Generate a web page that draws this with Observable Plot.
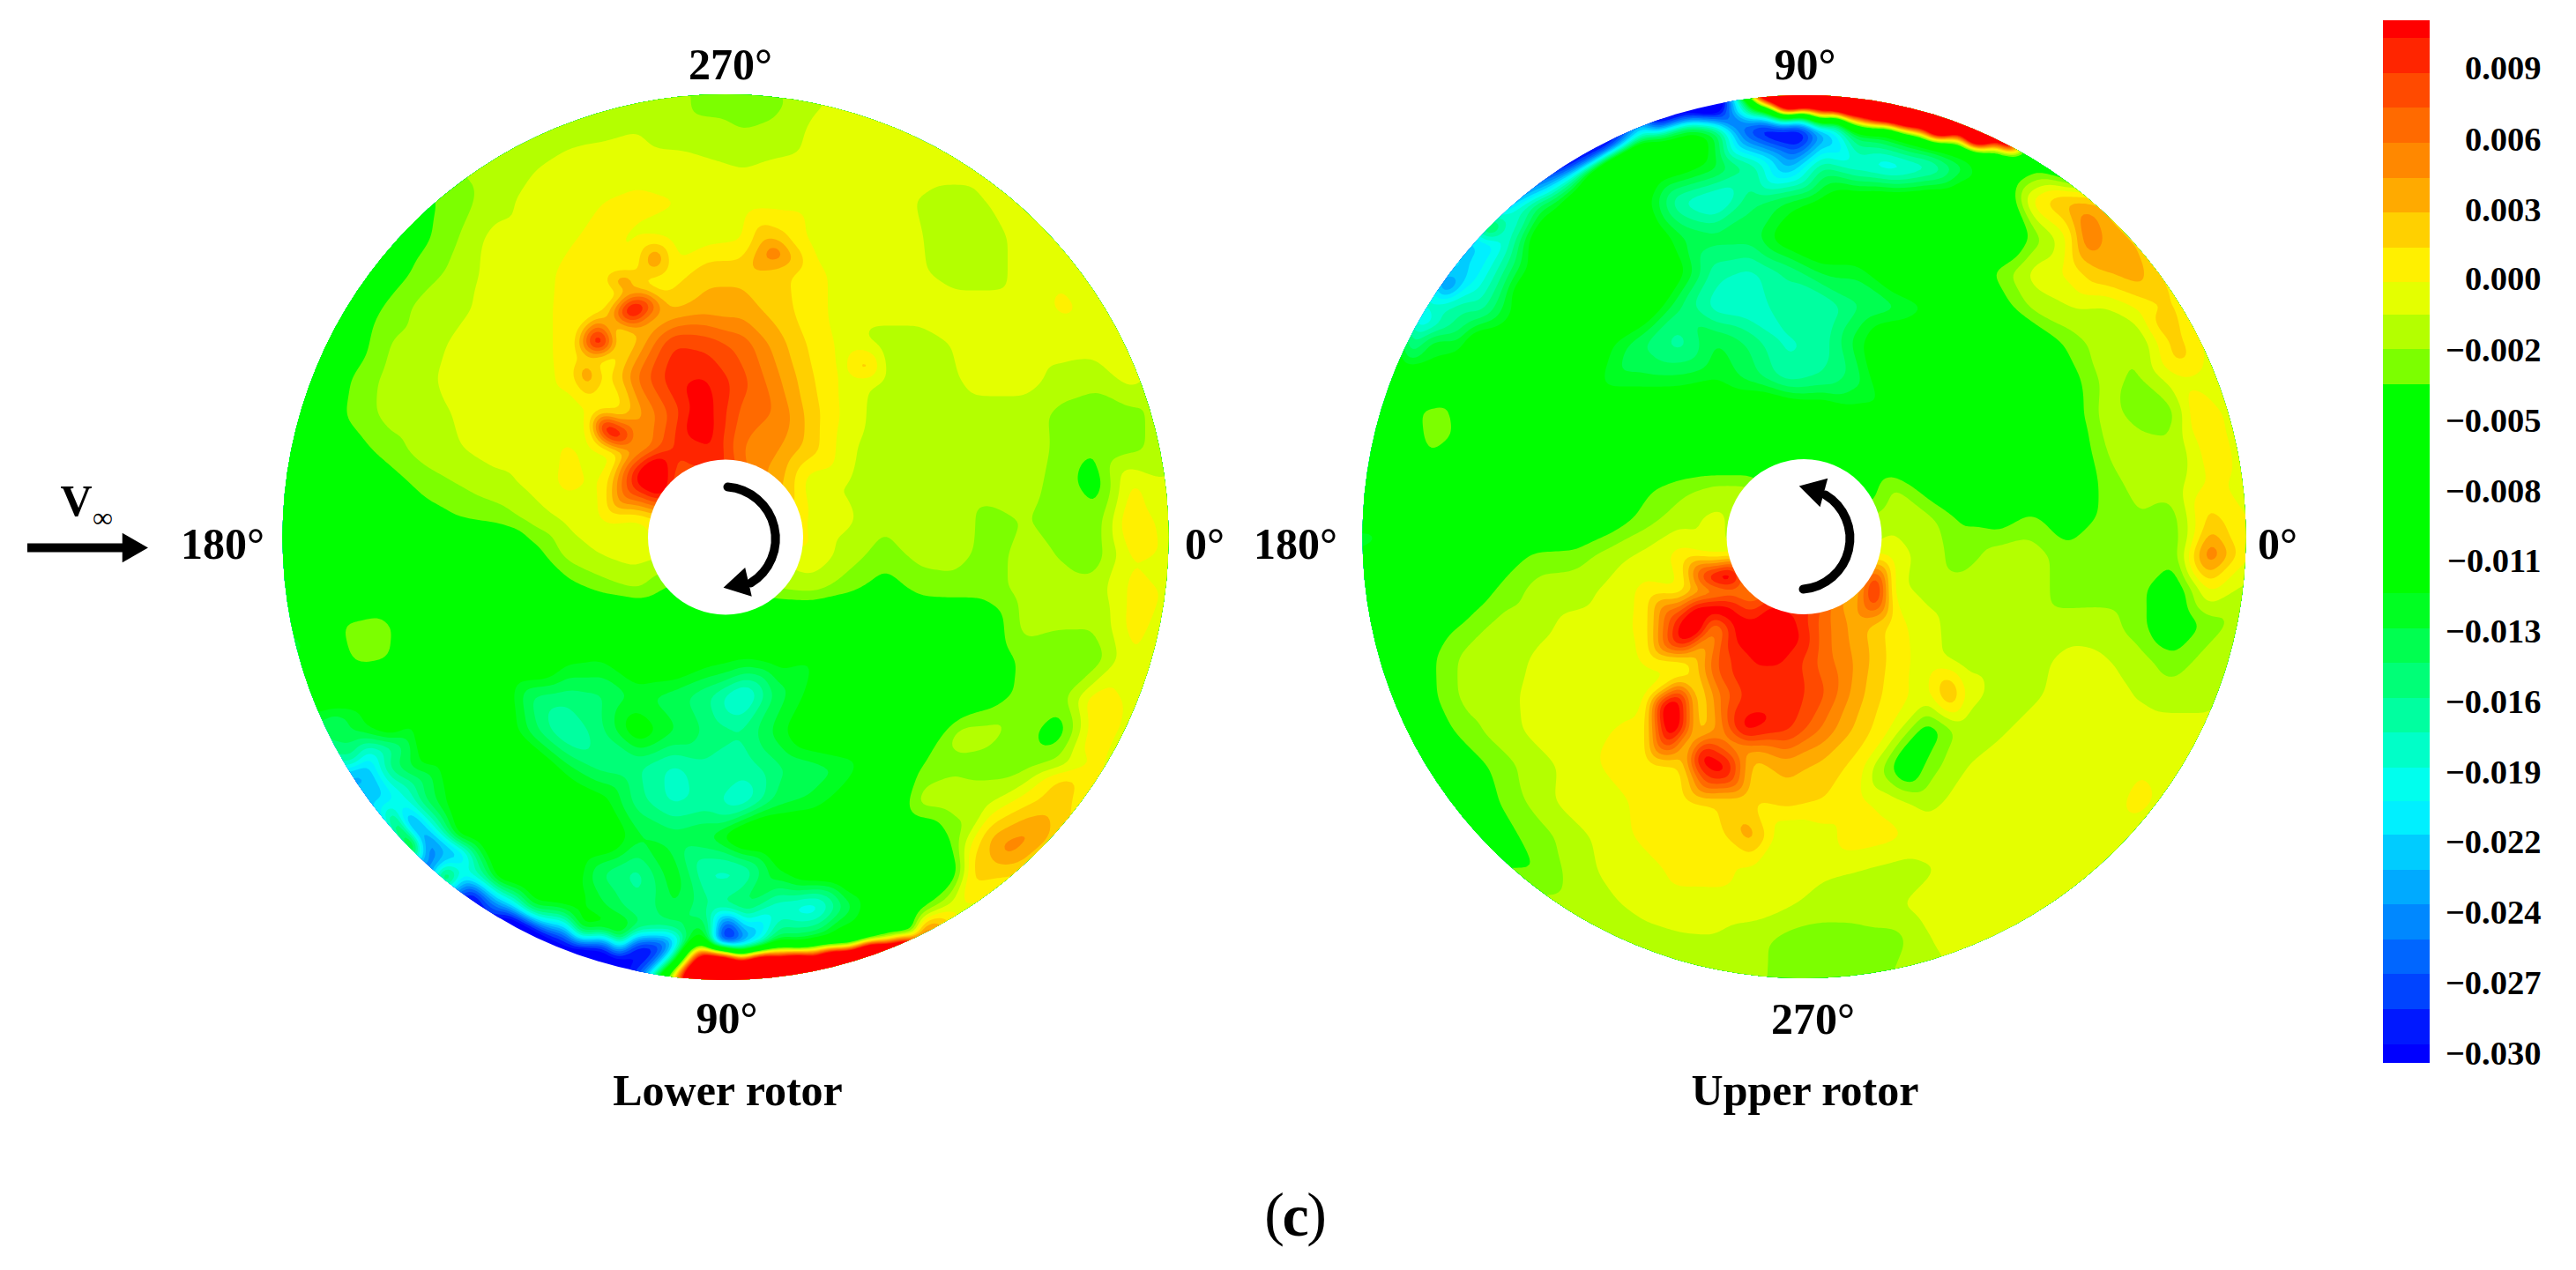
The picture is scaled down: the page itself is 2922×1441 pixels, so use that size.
<!DOCTYPE html>
<html>
<head>
<meta charset="utf-8">
<script src="https://cdn.jsdelivr.net/npm/d3@7"></script>
<script src="https://cdn.jsdelivr.net/npm/@observablehq/plot@0.6"></script>
<style>
html,body{margin:0;padding:0;background:#fff}
#chart{position:relative;width:2922px;height:1441px;overflow:hidden}
#chart svg{position:absolute;top:0;background:transparent}
</style>
</head>
<body>
<div id="chart"></div>
<script>
// Values are in thousandths. Rows run top to bottom, columns left to right.
const lowerRotor = [
[-1.4,-1.4,-1.4,-1.4,-1.4,-1.4,-1.4,-1.4,-1.4,-1.4,-1.4,-1.4,-2.8,-2.8,-2.5,-1,0,0,0,0,0,0,0,0,0,0],
[-1.5,-1.5,-1.5,-1.5,-1.5,-1.5,-1.5,-1.5,-1.4,-1,-.7,-1.4,-1.6,-2.1,-1.8,-.3,0,0,0,0,0,0,0,0,0,0],
[-2,-2,-2,-2,-2,-2,-1.6,-.9,0,0,0,0,-.4,-.7,-.3,0,0,0,0,0,0,0,0,0,0,0],
[-4,-4,-4,-4,-4,-2.5,-1.4,0,0,.6,1,.7,0,0,0,0,0,0,-.8,-1.4,-.6,0,0,0,0,0],
[-5,-5,-5,-5,-3.8,-2,0,0,.4,1,.3,0,0,.3,2.5,0,0,0,-.6,-1.4,-1.4,0,0,0,0,0],
[-6,-6,-6,-4.5,-2.8,-1.5,0,0,.9,1,1.5,1,3,3,2.5,1,0,0,-.5,-1.4,-1.4,0,.5,0,0,0],
[-7,-7,-5,-3,-1.4,-1,-.1,0,1,1,14,3,4,4,2.7,1,0,0,0,0,0,0,.8,.4,0,0],
[-7,-6,-4.5,-2,-1.3,-.3,0,0,1,14,3.5,9,8.5,7,4,1.5,0,-1.4,-1.4,-.6,0,0,0,0,0,0],
[-7,-5,-3.3,-1.5,-1,0,0,0,.9,1.5,6.5,10,10.5,8,5,2,0,-.9,-1.4,-.8,0,0,-1.2,-1.6,0,-1.4],
[-7,-4.8,-3,-1.5,-1.3,-.5,0,0,0,1.3,4,8,11,7,6,2.5,0,-1.4,-1.4,-1.4,-1.4,-1.4,-2.5,-3,-2.5,-1.5],
[-7,-5.5,-4.2,-2.6,-1.4,-.7,0,0,.8,.2,4,9,10,6,5,2.5,-.5,-1.5,-1.4,-1.4,-1.4,-1.4,-2.4,-3.5,-2.5,-1.5],
[-7,-7,-5.5,-4.5,-2.8,-2,-1.2,-.3,1,.4,11,8,8,7,4,-.7,-.8,-1.4,-1.4,-1.4,-1.4,-1.6,-2.6,-4.6,1,-.5],
[-9,-8,-7,-6,-4.5,-3.5,-3,-1.6,-.4,.5,0,2,2,2,2,.2,-.4,-1.8,-1.4,-1.4,-2.6,-2,-2.8,-3,2,-.5],
[-10,-8,-8,-8,-8,-8,-8,-4.5,-1.6,-.6,0,-.5,-.5,-.5,-.5,.5,-1.4,-2.8,-1.6,-1.4,-2.8,-1.4,-2.2,-3,.6,0],
[-10,-8,-8,-8,-8,-8,-8,-8,-4.5,-3,-2,-4,-4,-4,-2,-1.6,-3,-4.5,-3,-2.8,-2.8,-1.4,-1.4,-1.4,1,.5],
[-12,-8,-2.8,-3,-8,-8,-8,-8,-8,-8,-8,-8,-8,-8,-8,-8,-8,-8,-6,-6,-4.8,-1.5,-2,-2,1.2,0],
[-12,-8,-2.8,-3.6,-8,-8,-8,-8,-11.5,-12,-9,-9,-11,-12,-11,-12,-8,-8,-8,-8,-5,-3,-2.8,-3,.6,0],
[-12,-9,-9,-8,-8,-8,-9,-15,-15.5,-15,-13,-14,-16,-20,-14,-11,-8,-8,-8,-8,-4.8,-2.8,-2.8,1,-.1,0],
[-14,-14,-13,-10,-8,-8,-9,-14,-18,-15,-10,-13,-15,-16,-12.5,-9,-8,-8,-8,-1.6,-1.5,-3,-4.6,2,-.3,0],
[-18,-18,-17,-15,-11,-8.5,-8,-8.5,-13,-15.5,-16,-18,-16.5,-17,-15,-14,-13,-8.5,-3.4,-2.4,-2.8,-2.7,-1.2,.8,0,0],
[-22,-22,-22,-20,-14,-10,-8,-8,-9,-11,-15.5,-18,-17,-19,-14,-13,-10,-8,-1.4,-1.2,-1,1.5,2.7,.5,0,0],
[-30,-30,-30,-25,-25,-10.5,-8,-8,-8,-8.5,-13,-14,-13,-8,-8,-8,-8,-8,-6,-3,3.5,5.5,2.5,0,0,0],
[-30,-30,-30,-30,-28,-19,-9,-8,-9,-15,-17,-12,-18,-18,-12,-9,-8,-8,-8,-5,2.5,2,1,0,0,0],
[-35,-35,-35,-35,-35,-32,-26,-13,-12,-13,-16,-13,-16,-14,-19,-21,-14,-8.5,-4.5,.5,0,0,0,0,0,0],
[-35,-35,-35,-35,-35,-35,-35,-33,-30,-26,-28,-26,-20,-26,-13,-12,-10,-2,10,0,0,0,0,0,0,0],
[-35,-35,-35,-35,-35,-35,-35,-35,-35,-35,-28,0,40,40,40,40,40,40,40,30,0,0,0,0,0,0]
];
const upperRotor = [
[-30,-30,-30,-30,-30,-30,-30,-30,-30,-30,-40,-12,30,40,40,40,40,40,40,-8,-8,-8,-8,-8,-8,-8],
[-30,-30,-30,-30,-30,-30,-30,-30,-20,-11,-13,-29,-33,-25,-13,-10,10,15,20,-8,-8,-8,-8,-8,-8,-8],
[-30,-30,-30,-30,-30,-30,-30,-3.4,-8,-10,-12.5,-16,-24,-16,-19,-21,-19,-14,-8,-4.5,-8,-8,-8,-8,-8,-8],
[-26,-26,-26,-26,-26,-15,-8,-8,-11,-18,-20,-15,-13,-11,-9,-8.5,-8,-8,-8,1.5,4,3,-8,-8,-8,-8],
[-22,-22,-22,-22,-20,-9,-8,-8,-8.5,-13,-14,-14,-10,-8,-8,-8,-8,-8,-8,-3,.5,4.5,3,3,3,3],
[-20,-20,-20,-22,-16,-10,-8,-8,-8,-11,-17,-18,-16,-13,-13,-9,-8,-6,-3,0,1,3.5,4,1,1,1],
[-18,-18,-18,-16,-13,-9,-8,-8,-9,-15,-18.5,-19,-16,-18,-15,-14,-12,-8,-4.8,-1.6,-.8,-1,.7,2,0,0],
[-10,-10,-12,-9,-8,-8,-8.5,-11.5,-15,-17,-13,-15,-18,-17,-12.5,-8.5,-8,-8,-8,-6,-3,-1.4,-2,2.7,0,0],
[-9,-9,-8,-8,-8,-8,-8,-13,-13,-13,-12,-14,-17,-16,-14,-8.5,-8,-8,-8,-8,-4.5,-1.6,-2.4,.3,0,0],
[-12,-8,-2.8,-8,-8,-8,-8,-8.5,-8.5,-8,-8,-8,-8,-9,-11,-11,-8,-8,-8,-8,-5,-1.4,-2.8,-2.6,1,0],
[-10,-8,-2.8,-8,-8,-8,-8,-8,-8,-8,-8,-8,-8,-8,-8,-8,-8,-8,-8,-8,-6,-2,-1.4,-1.8,1.5,0],
[-10,-8,-8,-8,-8,-8,-8,-8,-4,-2.8,-2,-2,-6,-6,-6,-2,-5,-6.5,-6.5,-6.5,-6,-3,-1.4,-1.4,.9,.2],
[-8,-8,-8,-8,-8,-8,-8,-5,-2.8,-1.2,-.2,-2,-2,-2,-2,-1,-1.5,-3.8,-4.6,-3,-5,-3,-2.2,-2.8,2.7,.6],
[-10,-8,-8,-8,-4.6,-3,-2.8,-1.4,-.3,1.2,-.3,0,0,0,0,0,-1.2,-3,-1.4,-1.4,-2.9,-3,-3,-3,7,1],
[-9,-8,-8,-5,-3,-1.4,-1.3,-.3,1,.3,2,5,8,8,3,-.3,-1.2,-1.4,-1.4,-1.4,-2.9,-2.8,-3,-5.5,1,-1.2],
[-9,-8,-4.7,-3,-1.4,-1,-.3,0,1,11,5,11,11.5,7,4,1.3,-.3,-1.4,-1.4,-1.4,-1.4,-1.4,-2.9,-6,-2.8,-1.4],
[-9,-8,-3.5,-1.4,-1.3,-.4,0,0,.7,1,7.5,10.5,10.5,7,4.5,1.5,-.2,-1.4,-1.4,-1.2,-.2,-.5,-1.4,-3,-1.4,-1.4],
[-8,-8,-3.6,-1.4,-1.2,0,0,0,-.2,11,5.5,9.8,10,8,4,1.2,0,.5,-1.4,-1,0,0,-.8,-1.4,-1.4,0],
[-8,-8,-4.7,-2.5,-1.3,-.1,0,.6,1,11,4.5,11,9.5,6,3,.5,-5,-1.5,-1,0,0,0,0,0,0,0],
[-8,-8,-8,-4.6,-2.6,-1.3,-.1,.9,1,1.5,11,2.7,4,3,1.5,-3.5,-3,-.8,0,0,0,0,.5,0,0,0],
[-8,-8,-8,-4.6,-3.3,-1.2,0,.1,1,1.3,2,2,2.7,2,1,0,-1.2,-.2,0,0,0,0,1,0,0,0],
[-4,-4,-4,-4,-4,-2.8,-1.2,-.1,1,1.3,1.2,4.5,-1,0,1.5,1,0,0,0,0,-.6,0,0,0,0,0],
[-3.5,-3.5,-3.5,-3.5,-3.5,-3.5,-1.4,-.3,0,1,1.1,.2,0,-.4,-.8,-1.3,-.9,0,0,0,0,0,0,0,0,0],
[-1.4,-1.4,-1.4,-1.4,-1.4,-1.4,-1.4,-1,-.2,.1,0,-.1,-.5,-1.4,-1.4,-.9,0,0,0,0,0,0,0,0,0,0],
[-1.4,-1.4,-1.4,-1.4,-1.4,-1.4,-1.4,-1.4,-1.4,-1,-.9,-1.5,-2.8,-3,-2.9,-2.9,-.8,0,0,0,0,0,0,0,0,0],
[-1.4,-1.4,-1.4,-1.4,-1.4,-1.4,-1.4,-1.4,-1.4,-1.4,-1.4,-1.4,-3,-3.4,-3.4,-2,-1.4,0,0,0,0,0,0,0,0,0]
];
// Extra readings of small features: [x, y, value] in picture pixels.
const lowerSpots = [
[743,292,6],[707,320,8],[700,338,1.3],[715,352,14],[702,356,9],[730,345,11],[720,375,3],[705,330,1],
[678,388,14],[665,422,6],[693,488,14],[683,478,12],[703,498,12],
[655,370,.7],[650,400,.7],[645,430,.7],[665,345,.7],[680,320,.7],[697,375,1],[680,408,.7],[690,430,1.5],[728,372,3],[702,392,1.2],
[700,440,1.5],[700,470,1.3],[698,512,.2],[690,530,0],[670,500,0],[668,470,.3],[685,335,.7],[730,322,1],
[718,535,10],[745,528,14],[733,547,13],[750,552,14],
[795,460,11.5],[800,490,11.5],[795,430,10.5],[805,510,11],[790,475,12],
[865,272,3.5],[882,283,7],[905,297,3],[980,420,4],
[390,710,-3],[410,750,-3],[430,700,-3],[440,735,-3],
[825,1050,-31],[825,1070,-33],[812,1070,-30],[842,1070,-28],[825,1078,-10],
[722,1075,-31],[690,1072,-31],[750,1072,-30],[722,1052,-14],[682,1050,-11],[762,1052,-15],
[1140,963,5.8],[1105,985,3],[1247,797,2.8],[1207,885,2.8],[1287,593,2.8],[1290,620,2.5],
[295,450,-9],[295,550,-12],[295,650,-14],[295,750,-14],[1350,500,-.5],[1350,620,0],[1350,720,0],
[822,85,-3],[1000,85,0],[600,85,-1.4],[822,1135,40],[700,1135,-35],[950,1135,40]
];
const upperSpots = [
[1950,660,14],[1960,652,14],[1940,688,13],[1920,700,14],[1910,725,13],[1925,715,14],
[1890,800,14],[1895,825,14],[1930,858,13],[1950,870,13],[1932,898,6],
[1933,727,3.5],[1915,750,1.2],[1907,763,.8],[1927,760,3.5],[1940,760,6.5],[1953,760,8.5],
[1925,790,1.5],[1935,790,3],[1925,830,2],[1913,843,1],[1985,855,3.5],
[2010,780,10],[2030,760,10],[2040,720,11],[2010,695,12],[1975,710,12],[1980,830,12],[1975,820,11],
[2128,667,12],[2158,870,-6],[2213,787,4.5],[2368,262,7],
[2423,317,4],[2453,363,3.5],[2470,400,3],[2487,467,1.5],[2507,593,3],
[1630,490,-2.5],[1615,470,-2.5],[1640,465,-2.5],[1620,500,-2.5],[1645,490,-2.5],[1625,485,-2.5],
[1835,182,-2.5],[1850,175,-2.5],[1825,188,-2.5],
[2017,150,-33],[2040,150,-33],[1990,143,-31],[1947,130,-31],[2017,180,-22],
[2007,133,-19],[2040,131,-16],[1987,122,-10],
[1520,500,-12],[1520,620,-14],[1520,720,-12],[2570,500,0],[2570,620,.5],[2570,720,-1],
[2046,85,40],[1900,85,-30],[2150,85,40],[2046,1135,-3.4],[1900,1135,-1.4],[2200,1135,0]
];
// Readings along the rim: [angle in degrees clockwise from +x, [radius, value], ...].
const lowerRim = [
[65,[498,-8]],[66,[505,20],[499,14],[495,-6]],[70,[505,40],[497,30],[492,14],[486,-8]],[75,[505,40],[496,30],[488,20],[482,-8]],
[80,[505,40],[494,30],[484,20],[477,-8]],[85,[505,40],[492,30],[480,22],[473,-8]],[90,[505,40],[490,30],[479,18],[472,6],[464,-10]],
[93,[505,40],[490,30],[474,14],[467,8],[458,-10]],[97,[500,4],[490,-12]],
[105,[498,-33],[490,-24],[478,-14],[465,-10]],[110,[498,-33],[490,-24],[478,-14],[465,-10]],
[115,[498,-33],[490,-25],[478,-19],[462,-13],[445,-9]],[120,[498,-33],[490,-25],[478,-19],[462,-13],[445,-9]],
[125,[498,-33],[490,-25],[478,-19],[462,-13],[445,-9]],[130,[498,-8],[485,-20],[470,-24],[455,-15],[435,-9]],
[135,[498,-6],[485,-28],[470,-20],[450,-14],[425,-9]],[138,[498,-6],[485,-28],[470,-20],[450,-14]],
[142,[498,-20],[485,-22],[460,-18],[430,-14],[400,-11]],[148,[498,-24],[480,-22],[450,-17],[420,-13],[390,-10]],
[155,[498,-15],[470,-13],[440,-10]],[165,[498,-13]],[175,[498,-12]],[185,[498,-12]]
];
const upperRim = [
[263,[498,-10],[490,-12]],[265,[505,30],[498,16],[490,-8]],[268,[505,40],[495,40],[486,22],[479,-8]],[275,[505,40],[495,40],[486,22],[479,-8]],
[282,[505,40],[495,40],[484,22],[477,-9]],[288,[505,40],[492,40],[479,22],[472,-9]],[293,[505,40],[495,35],[485,20],[478,-9]],
[297,[505,30],[497,16],[490,-8]],[300,[498,-8]],
[255,[498,-33],[488,-22],[476,-10]],[250,[498,-33],[489,-20],[478,-10]],[244,[498,-33],[489,-20],[478,-10]],
[238,[498,-32],[488,-19],[475,-10]],[233,[498,-25],[485,-18],[470,-12]],[228,[498,-18],[480,-18],[460,-11]],
[224,[498,-10],[485,-21],[470,-18],[445,-13]],[220,[498,-22],[480,-21],[450,-16],[425,-10]],
[215,[498,-28],[480,-20],[450,-17],[420,-12]],[210,[498,-22],[475,-17],[445,-13],[415,-10]],
[205,[498,-16],[470,-12]],[200,[498,-13]],[190,[498,-13]],[180,[498,-14]]
];
const levels = [-30,-28.6,-27.2,-25.8,-24.4,-23,-21.6,-20.25,-18.9,-17.5,-16.1,-14.7,-13.3,-11.9,-10.5,-9.1,-7.7,-6.3,-4.9,-3.5,-2.1,-.7,.6,2,3.4,4.8,6.2,7.6,9,10.4];
const bandColors = ["#0000ff","#0018ff","#0044ff","#0066ff","#0088ff","#00aaff","#00ccff","#00f0ff","#00ffee","#00ffc8","#00ffa0","#00ff77","#00ff50","#00ff22",
"#00ff00","#00ff00","#00ff00","#00ff00","#00ff00","#00ff00","#7cff00","#b4ff00","#e4ff00","#fff000","#ffd000","#ffaa00","#ff8800","#ff6a00","#ff4a00","#ff2500","#ff0000"];
const tickLabels = ["0.009","0.006","0.003","0.000","−0.002","−0.005","−0.008","−0.011","−0.013","−0.016","−0.019","−0.022","−0.024","−0.027","−0.030"];
const tickAt = [9.19,6.34,3.51,.75,-2.12,-4.95,-7.78,-10.58,-13.41,-16.25,-19.08,-21.87,-24.71,-27.54,-30.37];
const scaleTop = 11.12, scaleBottom = -30.76;

const angleLabels = [
  {t:"270°",x:828,y:73},{t:"90°",x:824,y:1155},{t:"180°",x:252,y:617},{t:"0°",x:1366,y:617},
  {t:"90°",x:2047,y:73},{t:"270°",x:2056,y:1156},{t:"180°",x:1469,y:617},{t:"0°",x:2583,y:617},
  {t:"Lower rotor",x:825,y:1237},{t:"Upper rotor",x:2047,y:1237},{t:"V",x:86,y:568}
];
const captionParts = [{t:"(",x:1445,w:"normal"},{t:"c",x:1469,w:"bold"},{t:")",x:1493,w:"normal"}];
const discs = [
  {name:"lower",cx:822.5,cy:609,r:502.5,rows:lowerRotor,spots:lowerSpots,rim:lowerRim},
  {name:"upper",cx:2046,cy:608.5,r:501,rows:upperRotor,spots:upperSpots,rim:upperRim}
];
const hubRadius = 88, cellSize = 40, gridSize = 26;
const windShaft = [{x1:31,y1:621,x2:142,y2:621}];
const windHead = [{x:148,y:621,rotate:90}];
const spinHeads = [{x:839,y:662,rotate:-103},{x:2059,y:556,rotate:-75}];

const fill = {type:"threshold",domain:levels,range:bandColors,legend:false};
const clipDisc = d => function(index,scales,values,dims,context,next){
  const g = next(index,scales,values,dims,context);
  g.style.clipPath = `circle(${d.r}px at ${d.cx}px ${d.cy}px) view-box`;
  return g;
};
const samples = d => {
  const half = gridSize*cellSize/2;
  const pts = d.rows.flatMap((row,j)=>row.map((v,i)=>({x:d.cx-half+(i+.5)*cellSize,y:d.cy-half+(j+.5)*cellSize,v})));
  d.spots.forEach(([x,y,v])=>pts.push({x,y,v}));
  d.rim.forEach(([a,...rs])=>rs.forEach(([r,v])=>pts.push({
    x:d.cx+r*Math.cos(a*Math.PI/180),y:d.cy+r*Math.sin(a*Math.PI/180),v})));
  return pts;
};
const contours = discs.map(d => Plot.contour(samples(d),{
  x:"x",y:"y",fill:"v",
  x1:d.cx-gridSize*cellSize/2,x2:d.cx+gridSize*cellSize/2,
  y1:d.cy-gridSize*cellSize/2,y2:d.cy+gridSize*cellSize/2,
  interpolate:"barycentric",pixelSize:3,blur:2,
  thresholds:[-200,...levels],
  render:clipDisc(d)
}));
const pixelAxes = (w,h) => ({x:{domain:[0,w],range:[0,w],axis:null},y:{domain:[0,h],range:[0,h],axis:null}});
const serif = "Liberation Serif";
const main = Plot.plot({
  width:2922,height:1441,margin:0,...pixelAxes(2922,1441),color:fill,
  style:{fontFamily:serif,background:"transparent"},
  marks:[
    ...contours,
    Plot.dot(discs,{x:"cx",y:"cy",r:hubRadius,fill:"white",stroke:"none"}),
    Plot.arrow([{x1:825,y1:552,x2:851,y2:661}],{x1:"x1",y1:"y1",x2:"x2",y2:"y2",bend:72,headLength:0,stroke:"black",strokeWidth:10}),
    Plot.arrow([{x1:2045,y1:668,x2:2070,y2:561}],{x1:"x1",y1:"y1",x2:"x2",y2:"y2",bend:-72,headLength:0,stroke:"black",strokeWidth:10}),
    Plot.dot(spinHeads,{x:"x",y:"y",r:12.5,symbol:"triangle",rotate:"rotate",fill:"black",stroke:"none"}),
    Plot.ruleY(windShaft,{x1:"x1",x2:"x2",y:"y1",stroke:"black",strokeWidth:10}),
    Plot.dot(windHead,{x:"x",y:"y",r:12.5,symbol:"triangle",rotate:"rotate",fill:"black",stroke:"none"}),
    Plot.text(angleLabels,{x:"x",y:"y",text:"t",fontSize:50,fontWeight:"bold",fill:"black"}),
    Plot.text(["∞"],{x:[116],y:[587],fontSize:32,fill:"black"}),
    Plot.text(captionParts.filter(d=>d.w==="normal"),{x:"x",y:1378,text:"t",fontSize:68,fill:"black"}),
    Plot.text(captionParts.filter(d=>d.w==="bold"),{x:"x",y:1380,text:"t",fontSize:68,fontWeight:"bold",fill:"black"})
  ]
});
const bands = [scaleBottom,...levels].map((v,i,a)=>({lo:v,hi:i+1<a.length?a[i+1]:scaleTop}));
const bar = Plot.plot({
  width:282,height:1441,margin:0,
  x:{domain:[0,282],range:[0,282],axis:null},
  y:{domain:[scaleTop,scaleBottom],range:[23,1206],axis:null},
  color:fill,
  style:{fontFamily:serif,background:"transparent"},
  marks:[
    Plot.rectY(bands,{x1:63,x2:116,y1:"lo",y2:"hi",fill:"lo",shapeRendering:"crispEdges"}),
    Plot.text(tickLabels,{x:242,y:(d,i)=>tickAt[i],text:d=>d,textAnchor:"end",fontSize:38.5,fontWeight:"bold",fill:"black"})
  ]
});
main.style.left="0px"; bar.style.left="2640px";
document.getElementById("chart").append(main,bar);
</script>
</body>
</html>
